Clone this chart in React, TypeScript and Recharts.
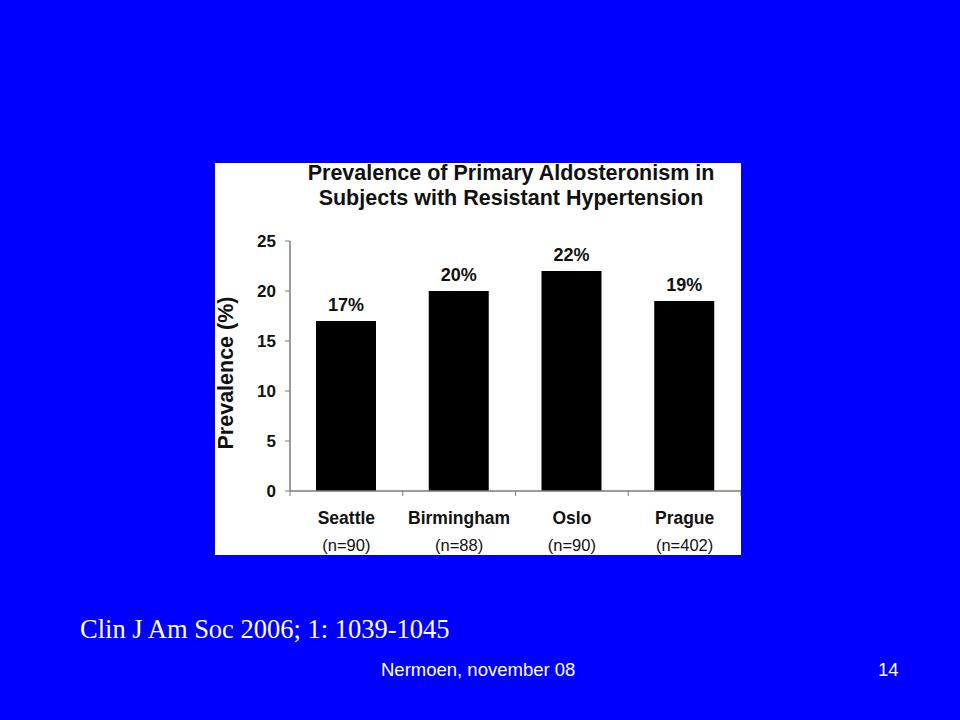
import React from 'react';
import { BarChart, Bar, XAxis, YAxis, LabelList } from 'recharts';

const categories = ['Seattle', 'Birmingham', 'Oslo', 'Prague'];
const sampleSizes = ['(n=90)', '(n=88)', '(n=90)', '(n=402)'];
const prevalence = [17, 20, 22, 19];
const yTicks = [0, 5, 10, 15, 20, 25];

const titleLines = ['Prevalence of Primary Aldosteronism in', 'Subjects with Resistant Hypertension'];
const yLabel = 'Prevalence (%)';
const citation = 'Clin J Am Soc 2006; 1: 1039-1045';
const footer = 'Nermoen, november 08';
const pageNo = '14';

const data = categories.map((c, i) => ({ city: c, n: sampleSizes[i], value: prevalence[i] }));

const SANS = '"Liberation Sans", Arial, Helvetica, sans-serif';
const SERIF = '"Liberation Serif", "Times New Roman", serif';
const AXIS = '#7a7a7a';
const INK = '#111';

const CategoryTick = (props: any) => {
  const { x, y, payload, index } = props;
  const half = payload.offset || 0;
  const last = index === categories.length - 1;
  return (
    <g>
      <line x1={x - half} x2={x - half} y1={y} y2={y + 5} stroke={AXIS} strokeWidth={1} />
      {last && <line x1={x + half} x2={x + half} y1={y} y2={y + 5} stroke={AXIS} strokeWidth={1} />}
      <text x={x} y={y + 33} textAnchor="middle" fontFamily={SANS} fontWeight="bold" fontSize={17.5} fill={INK}>
        {payload.value}
      </text>
      <text x={x} y={y + 60} textAnchor="middle" fontFamily={SANS} fontSize={16.5} fill={INK}>
        {sampleSizes[index]}
      </text>
    </g>
  );
};

const YLabelContent = (props: any) => {
  const vb = props.viewBox || {};
  const x = (vb.x || 0) + 18;
  const y = (vb.y || 0) + (vb.height || 0) / 2 + 7;
  return (
    <text
      x={x}
      y={y}
      transform={`rotate(-90 ${x} ${y})`}
      textAnchor="middle"
      fontFamily={SANS}
      fontWeight="bold"
      fontSize={21.5}
      fill={INK}
    >
      {yLabel}
    </text>
  );
};

export default function App() {
  return (
    <div
      style={{
        position: 'fixed',
        left: 0,
        top: 0,
        width: 960,
        height: 720,
        background: '#0000fe',
        overflow: 'hidden',
      }}
    >
      <div style={{ position: 'absolute', left: 215, top: 163, width: 526, height: 392, background: '#fff' }}>
        <div
          style={{
            position: 'absolute',
            left: 0,
            width: 592,
            top: -2.5,
            textAlign: 'center',
            fontFamily: SANS,
            fontWeight: 'bold',
            fontSize: 21.5,
            lineHeight: '25px',
            color: INK,
            whiteSpace: 'nowrap',
          }}
        >
          {titleLines.map((t) => (
            <div key={t}>{t}</div>
          ))}
        </div>
        <BarChart
          width={526}
          height={398}
          data={data}
          margin={{ top: 78, right: 0, bottom: 0, left: 0 }}
          style={{ position: 'absolute', left: 0, top: 0 }}
        >
          <XAxis
            dataKey="city"
            height={70}
            tickLine={false}
            tickSize={0}
            tickMargin={0}
            axisLine={{ stroke: AXIS, strokeWidth: 1.5 }}
            tick={<CategoryTick />}
            interval={0}
          />
          <YAxis
            width={75}
            domain={[0, 25]}
            ticks={yTicks}
            allowDataOverflow
            tickSize={5}
            tickMargin={9}
            tickLine={{ stroke: AXIS }}
            axisLine={{ stroke: AXIS, strokeWidth: 1.5 }}
            tick={{ fontFamily: SANS, fontWeight: 'bold', fontSize: 17, fill: INK }}
            label={<YLabelContent />}
          />
          <Bar dataKey="value" fill="#000" barSize={60} isAnimationActive={false}>
            <LabelList
              dataKey="value"
              position="top"
              offset={10}
              formatter={(v: any) => `${v}%`}
              style={{ fontFamily: SANS, fontWeight: 'bold', fontSize: 18, fill: INK }}
            />
          </Bar>
        </BarChart>
      </div>
      <div
        style={{
          position: 'absolute',
          left: 80,
          top: 614,
          fontFamily: SERIF,
          fontSize: 26.5,
          lineHeight: '30px',
          color: '#fff',
          whiteSpace: 'nowrap',
        }}
      >
        {citation}
      </div>
      <div
        style={{
          position: 'absolute',
          left: 381,
          top: 659,
          fontFamily: SANS,
          fontSize: 18.5,
          lineHeight: '22px',
          color: '#fff',
          whiteSpace: 'nowrap',
        }}
      >
        {footer}
      </div>
      <div
        style={{
          position: 'absolute',
          left: 878,
          top: 659,
          fontFamily: SANS,
          fontSize: 18.5,
          lineHeight: '22px',
          color: '#fff',
          whiteSpace: 'nowrap',
        }}
      >
        {pageNo}
      </div>
    </div>
  );
}
